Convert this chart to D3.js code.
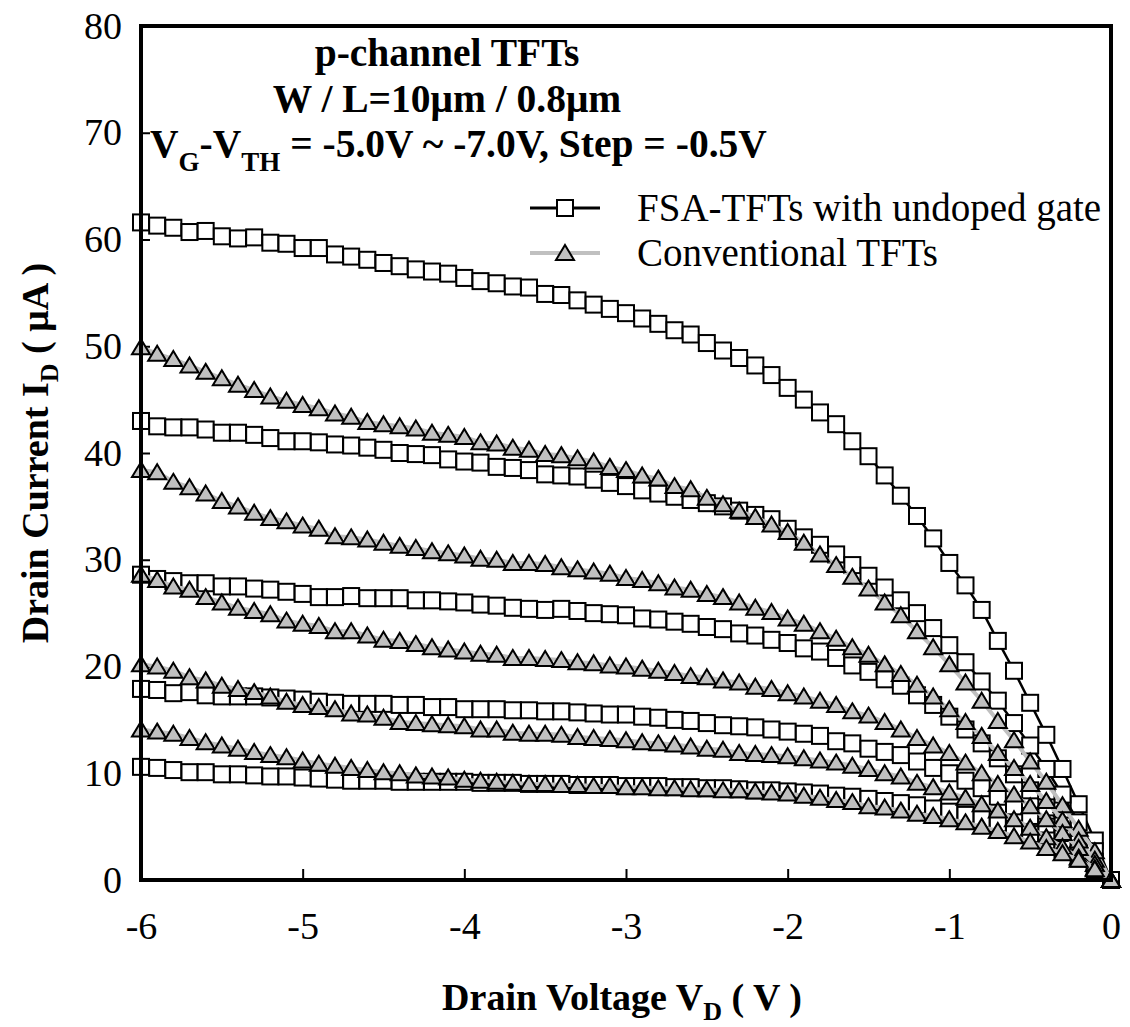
<!DOCTYPE html>
<html>
<head>
<meta charset="utf-8">
<script src="https://cdn.jsdelivr.net/npm/d3@7"></script>
<style>
  body { margin: 0; background: #fff; }
  text { font-family: "Liberation Serif", "Times New Roman", serif; }
</style>
</head>
<body>
<div id="chart"></div>
<script>
// drain voltage steps (V)
const vd = [-6.0,-5.9,-5.8,-5.7,-5.6,-5.5,-5.4,-5.3,-5.2,-5.1,
            -5.0,-4.9,-4.8,-4.7,-4.6,-4.5,-4.4,-4.3,-4.2,-4.1,
            -4.0,-3.9,-3.8,-3.7,-3.6,-3.5,-3.4,-3.3,-3.2,-3.1,
            -3.0,-2.9,-2.8,-2.7,-2.6,-2.5,-2.4,-2.3,-2.2,-2.1,
            -2.0,-1.9,-1.8,-1.7,-1.6,-1.5,-1.4,-1.3,-1.2,-1.1,
            -1.0,-0.9,-0.8,-0.7,-0.6,-0.5,-0.4,-0.3,-0.2,-0.1, 0];

// FSA-TFTs with undoped gate (uA), VG-VTH = -7.0 ... -5.0
const fsa1 = [61.6,61.3,61.1,60.7,60.8,60.3,60.1,60.2,59.7,59.6,
              59.2,59.2,58.6,58.4,58.1,57.8,57.5,57.2,57.0,56.8,
              56.4,56.1,55.9,55.6,55.5,54.9,54.8,54.3,53.9,53.5,
              53.1,52.6,52.1,51.5,51.1,50.3,49.6,48.9,48.2,47.3,
              46.1,45.0,43.8,42.7,41.1,39.7,37.9,36.0,34.1,32.0,
              29.7,27.6,25.3,22.4,19.6,16.6,13.6,10.4,7.1,3.7,0];
const fsa2 = [43.0,42.5,42.4,42.4,42.2,41.9,41.9,41.7,41.4,41.1,
              41.1,41.0,40.8,40.7,40.5,40.3,40.0,39.9,39.8,39.4,
              39.2,39.1,38.7,38.6,38.4,38.0,37.9,37.8,37.5,37.2,
              36.9,36.5,36.2,35.9,35.6,35.3,35.0,34.6,34.2,33.8,
              32.9,32.1,31.4,30.5,29.5,28.5,27.4,26.2,25.0,23.6,
              22.0,20.4,18.6,16.8,14.7,12.6,10.4,8.0,5.4,2.7,0];
const fsa3 = [28.6,28.2,28.0,27.8,27.8,27.5,27.5,27.3,27.2,27.0,
              26.8,26.5,26.5,26.6,26.4,26.4,26.4,26.2,26.2,26.1,
              26.0,25.8,25.7,25.5,25.4,25.3,25.4,25.2,25.0,24.9,
              24.8,24.5,24.4,24.2,24.0,23.7,23.5,23.1,22.9,22.5,
              22.2,21.7,21.4,20.8,20.1,19.5,18.8,18.2,17.3,16.4,
              15.3,14.1,12.8,11.4,9.9,8.4,6.8,5.1,3.4,1.7,0];
const fsa4 = [17.9,17.8,17.5,17.6,17.3,17.2,17.2,17.2,17.1,17.0,
              16.9,16.7,16.6,16.5,16.5,16.5,16.4,16.4,16.2,16.2,
              16.0,16.0,16.0,15.9,15.9,15.8,15.8,15.7,15.6,15.5,
              15.5,15.3,15.2,15.0,14.9,14.7,14.5,14.4,14.3,14.1,
              13.9,13.7,13.5,13.0,12.8,12.3,12.0,11.7,11.1,10.5,
              10.0,9.3,8.6,7.8,6.9,6.0,5.0,3.9,2.7,1.4,0];
const fsa5 = [10.6,10.5,10.3,10.1,10.1,9.9,9.9,9.8,9.7,9.7,
              9.6,9.5,9.4,9.3,9.3,9.3,9.2,9.2,9.2,9.2,
              9.2,9.1,9.1,9.1,9.0,9.0,9.0,8.9,8.9,8.9,
              8.8,8.8,8.8,8.7,8.7,8.6,8.6,8.5,8.4,8.4,
              8.3,8.2,8.1,7.9,7.8,7.6,7.4,7.2,7.0,6.7,
              6.4,6.1,5.7,5.3,4.8,4.3,3.7,2.9,2.0,1.0,0];

// Conventional TFTs (uA)
const conv1 = [49.9,49.3,48.8,48.2,47.6,47.0,46.4,45.9,45.3,44.9,
               44.5,44.2,43.7,43.4,42.9,42.7,42.5,42.3,41.9,41.7,
               41.5,41.0,40.9,40.5,40.3,39.9,39.8,39.5,39.2,38.7,
               38.4,37.9,37.6,36.9,36.6,35.8,35.2,34.6,34.0,33.3,
               32.6,31.6,30.5,29.5,28.4,27.3,26.0,24.8,23.3,21.8,
               20.2,18.5,16.8,14.9,13.1,11.1,9.2,7.0,4.8,2.7,0];
const conv2 = [38.4,38.2,37.3,36.8,36.2,35.5,35.0,34.4,33.9,33.6,
               33.2,32.9,32.2,32.1,31.9,31.6,31.3,31.1,30.8,30.6,
               30.4,30.1,30.0,29.7,29.7,29.6,29.3,29.1,28.9,28.7,
               28.3,28.1,27.8,27.4,27.2,26.8,26.5,26.0,25.5,25.1,
               24.5,24.0,23.3,22.6,21.8,21.1,20.2,19.3,18.3,17.2,
               16.0,14.8,13.5,11.9,10.5,9.0,7.4,5.6,3.7,1.9,0];
const conv3 = [28.6,28.1,27.5,27.2,26.5,26.0,25.5,25.2,24.9,24.3,
               24.0,23.8,23.3,23.3,22.9,22.5,22.4,22.1,21.8,21.6,
               21.4,21.2,21.1,20.8,20.8,20.7,20.6,20.4,20.3,20.1,
               20.0,19.8,19.6,19.4,19.1,19.0,18.7,18.5,18.1,17.9,
               17.5,17.2,16.8,16.4,15.8,15.4,14.8,14.1,13.3,12.6,
               11.9,11.0,10.0,9.0,8.0,6.9,5.7,4.4,3.0,1.5,0];
const conv4 = [20.2,20.0,19.6,19.0,18.7,18.2,17.9,17.6,17.2,16.7,
               16.4,16.2,16.0,15.6,15.5,15.2,14.8,14.7,14.6,14.5,
               14.4,14.1,14.1,13.8,13.7,13.7,13.6,13.4,13.3,13.2,
               13.1,12.9,12.8,12.7,12.5,12.3,12.2,11.9,11.8,11.7,
               11.6,11.4,11.2,11.0,10.7,10.4,10.0,9.7,9.1,8.7,
               8.2,7.7,7.1,6.5,5.7,4.9,4.0,3.1,2.1,1.1,0];
const conv5 = [14.1,13.9,13.7,13.3,12.9,12.6,12.3,12.0,11.7,11.5,
               11.2,10.9,10.7,10.5,10.3,10.1,10.0,9.8,9.7,9.6,
               9.4,9.3,9.2,9.1,9.0,9.0,8.9,8.9,8.8,8.8,
               8.7,8.7,8.6,8.6,8.5,8.5,8.4,8.4,8.3,8.2,
               8.1,7.9,7.7,7.5,7.3,6.9,6.8,6.5,6.2,6.0,
               5.7,5.4,5.0,4.6,4.1,3.6,3.0,2.5,1.9,1.0,0];

const fsaSeries = [fsa1, fsa2, fsa3, fsa4, fsa5];
const convSeries = [conv1, conv2, conv3, conv4, conv5];

const xTicks = [-6, -5, -4, -3, -2, -1, 0];
const yTicks = [0, 10, 20, 30, 40, 50, 60, 70, 80];
const legendLabels = ["FSA-TFTs with undoped gate", "Conventional TFTs"];

// plot frame
const W = 1130, H = 1027;
const margin = {top: 26, right: 19, bottom: 147, left: 141};
const width = W - margin.left - margin.right,
      height = H - margin.top - margin.bottom;

const svg = d3.select("#chart")
  .append("svg")
    .attr("width", W)
    .attr("height", H);

const g = svg.append("g")
    .attr("transform", `translate(${margin.left},${margin.top})`);

const x = d3.scaleLinear().domain([-6, 0]).range([0, width]);
const y = d3.scaleLinear().domain([0, 80]).range([height, 0]);

// axes (ticks point inward)
const yAxis = g.append("g")
  .call(d3.axisLeft(y).tickValues(yTicks).tickSize(-9).tickPadding(19).tickFormat(d3.format("d")));
const xAxis = g.append("g")
  .attr("transform", `translate(0,${height})`)
  .call(d3.axisBottom(x).tickValues(xTicks).tickSize(-11).tickPadding(32).tickFormat(d => d));

[xAxis, yAxis].forEach(ax => {
  ax.select(".domain").remove();
  ax.selectAll(".tick line").attr("stroke", "#000").attr("stroke-width", 2);
  ax.selectAll(".tick text")
    .attr("fill", "#000")
    .style("font-size", "38px");
});
xAxis.selectAll(".tick line").filter(d => d === -6 || d === 0).remove();
yAxis.selectAll(".tick line").filter(d => d === 0 || d === 80).remove();

// lines + markers
const line = d3.line().x((d, i) => x(vd[i])).y(d => y(d));
const sq = 16;
const triPath = "M0,-8 L9,7 L-9,7 Z";

fsaSeries.forEach(s => {
  g.append("path")
    .datum(s)
    .attr("fill", "none")
    .attr("stroke", "#000")
    .attr("stroke-width", 2.5)
    .attr("d", line);
  g.append("g").selectAll("rect")
    .data(s)
    .join("rect")
      .attr("x", (d, i) => x(vd[i]) - sq / 2)
      .attr("y", d => y(d) - sq / 2)
      .attr("width", sq)
      .attr("height", sq)
      .attr("fill", "#fff")
      .attr("stroke", "#000")
      .attr("stroke-width", 2);
});

convSeries.forEach(s => {
  g.append("path")
    .datum(s)
    .attr("fill", "none")
    .attr("stroke", "#c0c0c0")
    .attr("stroke-width", 4)
    .attr("d", line);
  g.append("g").selectAll("path")
    .data(s)
    .join("path")
      .attr("d", triPath)
      .attr("transform", (d, i) => `translate(${x(vd[i])},${y(d)})`)
      .attr("fill", "#c0c0c0")
      .attr("stroke", "#000")
      .attr("stroke-width", 2)
      .attr("stroke-linejoin", "miter");
});

// frame on top
g.append("rect")
  .attr("width", width)
  .attr("height", height)
  .attr("fill", "none")
  .attr("stroke", "#000")
  .attr("stroke-width", 4);

// legend
const leg = svg.append("g");
[0, 1].forEach(i => {
  const ly = 208 + i * 45;
  leg.append("line")
    .attr("x1", 530).attr("x2", 600).attr("y1", ly).attr("y2", ly)
    .attr("stroke", i === 0 ? "#000" : "#c0c0c0")
    .attr("stroke-width", i === 0 ? 3 : 4);
  if (i === 0) {
    leg.append("rect")
      .attr("x", 565 - sq / 2).attr("y", ly - sq / 2)
      .attr("width", sq).attr("height", sq)
      .attr("fill", "#fff").attr("stroke", "#000").attr("stroke-width", 2);
  } else {
    leg.append("path")
      .attr("d", triPath)
      .attr("transform", `translate(565,${ly})`)
      .attr("fill", "#c0c0c0").attr("stroke", "#000").attr("stroke-width", 2);
  }
  leg.append("text")
    .attr("x", 637).attr("y", ly + 13)
    .style("font-size", "39px")
    .text(legendLabels[i]);
});

// annotation
const note = svg.append("g").style("font-weight", "bold").style("font-size", "39.5px");
note.append("text").attr("x", 447).attr("y", 66).attr("text-anchor", "middle").text("p-channel TFTs");
note.append("text").attr("x", 447).attr("y", 112).attr("text-anchor", "middle").text("W / L=10μm / 0.8μm");
const vt = note.append("text").attr("x", 150).attr("y", 157);
vt.append("tspan").text("V");
vt.append("tspan").attr("dy", 14).style("font-size", "27px").text("G");
vt.append("tspan").attr("dy", -14).text("-V");
vt.append("tspan").attr("dy", 14).style("font-size", "27px").text("TH");
vt.append("tspan").attr("dy", -14).text(" = -5.0V ~ -7.0V, Step = -0.5V");

// axis titles
const xt = svg.append("text")
  .attr("x", 622).attr("y", 1010)
  .attr("text-anchor", "middle")
  .style("font-weight", "bold").style("font-size", "38px");
xt.append("tspan").text("Drain Voltage V");
xt.append("tspan").attr("dy", 10).style("font-size", "26px").text("D");
xt.append("tspan").attr("dy", -10).text(" ( V )");

const yt = svg.append("text")
  .attr("transform", `translate(48,${margin.top + height / 2}) rotate(-90)`)
  .attr("text-anchor", "middle")
  .style("font-weight", "bold").style("font-size", "38px");
yt.append("tspan").text("Drain Current I");
yt.append("tspan").attr("dy", 10).style("font-size", "26px").text("D");
yt.append("tspan").attr("dy", -10).text(" ( μA )");
</script>
</body>
</html>
